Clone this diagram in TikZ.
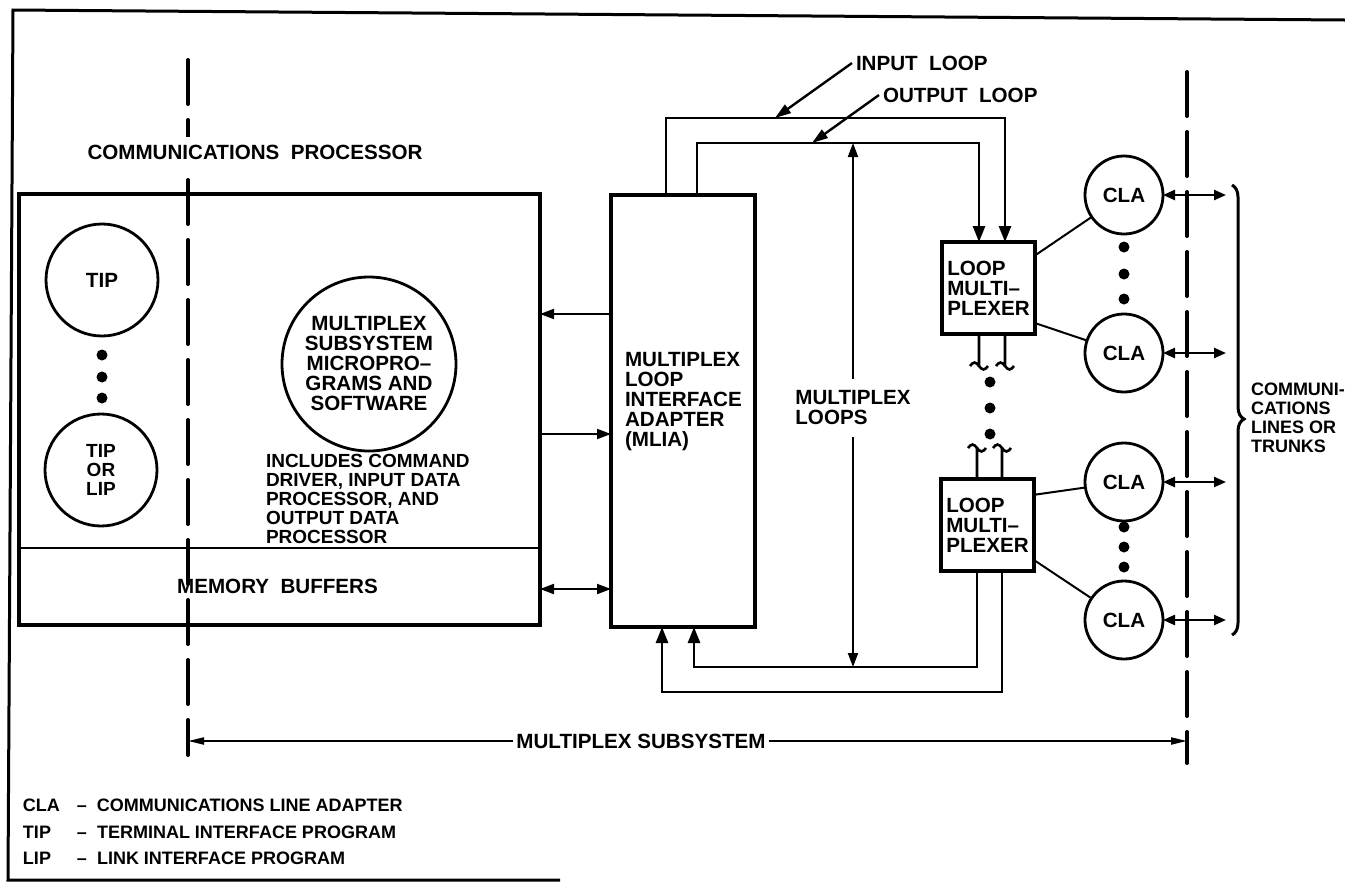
\documentclass[tikz,border=0pt]{standalone}
\usepackage{fontspec}
\setmainfont{Liberation Sans}
\usetikzlibrary{arrows.meta,decorations.pathreplacing,calc}
\newcommand\dgmMain{\bfseries\fontsize{10.3pt}{10pt}\selectfont}
\newcommand\dgmSmall{\bfseries\fontsize{9.5pt}{9.5pt}\selectfont}
\newcommand\dgmLeg{\bfseries\fontsize{9pt}{9.5pt}\selectfont}
\begin{document}
\begin{tikzpicture}[x=0.5pt,y=-0.5pt,
  every node/.style={font=\dgmMain, inner sep=0pt, outer sep=0pt},
  frame/.style={line width=1.5pt},
  box/.style={draw, line width=1.8pt, outer sep=0pt},
  lmbox/.style={draw, line width=2pt, outer sep=0pt, align=left, minimum width=46.5pt, minimum height=46pt},
  circ/.style={circle, draw, line width=1.4pt, inner sep=0pt, align=center},
  cla/.style={circ, minimum size=39pt},
  dot/.style={circle, fill, inner sep=0pt, minimum size=5.5pt},
  dashline/.style={line width=2pt, dash pattern=on 22pt off 8pt, line cap=round},
  conn/.style={line width=1pt, -{Triangle[length=7pt,width=5pt]}},
  dconn/.style={line width=1pt, {Triangle[length=7pt,width=5pt]}-{Triangle[length=7pt,width=5pt]}},
  loopline/.style={line width=1.3pt},
  looparrow/.style={line width=1.3pt, -{Triangle[length=8pt,width=6pt]}},
  labarrow/.style={line width=1.2pt, -{Triangle[length=8pt,width=5pt]}},
  ssarrow/.style={line width=1pt, -{Triangle[length=8pt,width=3.5pt]}},
  cladbl/.style={line width=1.2pt, {Triangle[length=6pt,width=5pt]}-{Triangle[length=6pt,width=5pt]}},
  thinline/.style={line width=1pt},
  brace/.style={line width=1.5pt, decorate, decoration={brace, amplitude=6pt, aspect=0.52}}
]
\useasboundingbox (0,0) rectangle (1345,890);

% outer frame
\coordinate (f1) at (13,10);
\coordinate (f2) at (1345,20);
\coordinate (f3) at (8,880);
\coordinate (f4) at (560,880);
\draw[frame] (f2) -- (f1) -- (f3) -- (f4);

% dashed boundaries
\coordinate (lt) at (188,60);
\coordinate (lb) at (188,755);
\coordinate (rt) at (1187,72);
\coordinate (rb) at (1187,763);
\draw[dashline] (lt) -- (lb);
\draw[dashline] (rt) -- (rb);

% communications processor
\node[fill=white, inner ysep=4pt] (cptitle) at (255,152) {COMMUNICATIONS\ \ PROCESSOR};
\node[box, minimum width=260.5pt, minimum height=215.5pt] (cp) at (279.5,409.5) {};
\draw[line width=1.2pt] (cp.west |- 0,548) -- (cp.east |- 0,548);
\node (mem) at (277.5,586) {MEMORY\ \ BUFFERS};

\node[circ, minimum size=56pt] (tip) at (102,280) {TIP};
\node[dot] (td1) at (102,355) {};
\node[dot] (td2) at (102,377) {};
\node[dot] (td3) at (102,398) {};
\node[circ, minimum size=56pt, font=\dgmSmall] (tiplip) at (101,470) {TIP\\OR\\LIP};

\node[circ, minimum size=87pt] (msw) at (369,364) {MULTIPLEX\\SUBSYSTEM\\MICROPRO–\\GRAMS AND\\SOFTWARE};
\node[anchor=west, align=left, font=\dgmSmall] (incl) at (266,499) {INCLUDES COMMAND\\DRIVER, INPUT DATA\\PROCESSOR, AND\\OUTPUT DATA\\PROCESSOR};

% MLIA
\node[box, minimum width=72pt, minimum height=216pt] (mlia) at (683,411) {};
\node[anchor=west, align=left] (mliatxt) at (625,402) {MULTIPLEX\\LOOP\\INTERFACE\\ADAPTER\\(MLIA)};

\draw[conn] (mlia.west |- 0,314) -- (cp.east |- 0,314);
\draw[conn] (cp.east |- 0,434) -- (mlia.west |- 0,434);
\draw[dconn] (cp.east |- 0,589) -- (mlia.west |- 0,589);

% loop multiplexers
\node[lmbox] (lm1) at (988.5,288) {LOOP\\MULTI–\\PLEXER};
\node[lmbox] (lm2) at (987.5,525) {LOOP\\MULTI–\\PLEXER};

% loops top
\coordinate (oT1) at (666,118);
\coordinate (oT2) at (1005,118);
\coordinate (iT1) at (697,143);
\coordinate (iT2) at (979,143);
\draw[looparrow] (mlia.north -| oT1) -- (oT1) -- (oT2) -- (lm1.north -| oT2);
\draw[looparrow] (mlia.north -| iT1) -- (iT1) -- (iT2) -- (lm1.north -| iT2);
% loops bottom
\coordinate (oB1) at (662,692);
\coordinate (oB2) at (1002,692);
\coordinate (iB1) at (694,667);
\coordinate (iB2) at (977,667);
\draw[looparrow] (lm2.south -| oB2) -- (oB2) -- (oB1) -- (mlia.south -| oB1);
\draw[looparrow] (lm2.south -| iB2) -- (iB2) -- (iB1) -- (mlia.south -| iB1);

% broken loop segments between multiplexers
\coordinate (u1) at (979,366);
\coordinate (u2) at (1005,366);
\coordinate (w1) at (977,448);
\coordinate (w2) at (1002,448);
\draw[loopline] (lm1.south -| u1) -- (u1) ++(-9,0) sin ++(4.5,-3.5) cos ++(4.5,3.5) sin ++(4.5,3.5) cos ++(4.5,-3.5);
\draw[loopline] (lm1.south -| u2) -- (u2) ++(-9,0) sin ++(4.5,-3.5) cos ++(4.5,3.5) sin ++(4.5,3.5) cos ++(4.5,-3.5);
\draw[loopline] (lm2.north -| w1) -- (w1) ++(-9,0) sin ++(4.5,-3.5) cos ++(4.5,3.5) sin ++(4.5,3.5) cos ++(4.5,-3.5);
\draw[loopline] (lm2.north -| w2) -- (w2) ++(-9,0) sin ++(4.5,-3.5) cos ++(4.5,3.5) sin ++(4.5,3.5) cos ++(4.5,-3.5);
\node[dot] (ld1) at (990,382) {};
\node[dot] (ld2) at (990,408) {};
\node[dot] (ld3) at (990,434) {};

% multiplex loops dimension
\node[align=left, inner ysep=6pt] (mlp) at (853,408) {MULTIPLEX\\LOOPS};
\coordinate (mlt) at (853,143);
\coordinate (mlb) at (853,667);
\draw[conn] (mlp) -- (mlt);
\draw[conn] (mlp) -- (mlb);

% loop labels
\node[anchor=west, inner xsep=2pt] (inl) at (852,63) {INPUT\ \ LOOP};
\coordinate (ia) at (775,118);
\draw[labarrow] (inl.west) -- (ia);
\node[anchor=west, inner xsep=2pt] (outl) at (879,95) {OUTPUT\ \ LOOP};
\coordinate (oa) at (812,143);
\draw[labarrow] (outl.west) -- (oa);

% CLAs
\node[cla] (cla1) at (1124,195) {CLA};
\node[cla] (cla2) at (1124,353) {CLA};
\node[cla] (cla3) at (1124,482) {CLA};
\node[cla] (cla4) at (1124,620) {CLA};
\node[dot] (cd1) at (1124,247) {};
\node[dot] (cd2) at (1124,274) {};
\node[dot] (cd3) at (1124,299) {};
\node[dot] (cd4) at (1124,527) {};
\node[dot] (cd5) at (1124,547) {};
\node[dot] (cd6) at (1124,567) {};
\draw[thinline] (lm1.35) -- (cla1);
\draw[thinline] (lm1.-37) -- (cla2);
\draw[thinline] (lm2.33) -- (cla3);
\draw[thinline] (lm2.-37) -- (cla4);

\coordinate (e1) at (1226,195);
\coordinate (e2) at (1226,353);
\coordinate (e3) at (1226,482);
\coordinate (e4) at (1226,620);
\draw[cladbl] (cla1) -- (e1);
\draw[cladbl] (cla2) -- (e2);
\draw[cladbl] (cla3) -- (e3);
\draw[cladbl] (cla4) -- (e4);

% brace and lines label
\coordinate (bt) at (1232,185);
\coordinate (bb) at (1232,635);
\draw[brace] (bt) -- (bb);
\node[anchor=west, align=left, font=\dgmLeg] (comm) at (1251,418) {COMMUNI-\\CATIONS\\LINES OR\\TRUNKS};

% multiplex subsystem extent
\node[inner xsep=1.5pt] (mss) at (641,741) {MULTIPLEX\ SUBSYSTEM};
\coordinate (ssl) at (188,741);
\coordinate (ssr) at (1187,741);
\draw[ssarrow] (mss) -- (ssl);
\draw[ssarrow] (mss) -- (ssr);

% legend
\node[anchor=west, font=\dgmLeg] (lg1) at (23,805) {\makebox[27pt][l]{CLA}–\ \ COMMUNICATIONS\ LINE\ ADAPTER};
\node[anchor=west, font=\dgmLeg] (lg2) at (23,832) {\makebox[27pt][l]{TIP}–\ \ TERMINAL\ INTERFACE\ PROGRAM};
\node[anchor=west, font=\dgmLeg] (lg3) at (23,858) {\makebox[27pt][l]{LIP}–\ \ LINK\ INTERFACE\ PROGRAM};
\end{tikzpicture}
\end{document}
